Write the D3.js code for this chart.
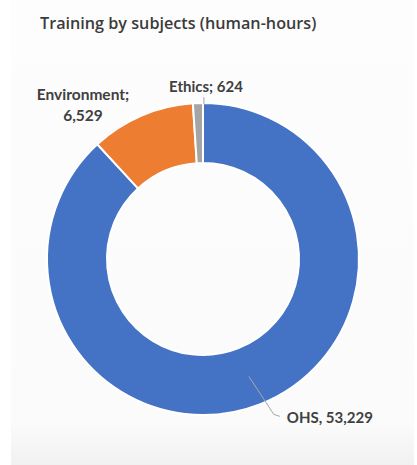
<!DOCTYPE html>
<html>
<head>
<meta charset="utf-8">
<script src="https://cdn.jsdelivr.net/npm/d3@7"></script>
<style>
  html, body { margin: 0; padding: 0; background: #ffffff; }
  svg { display: block; }
</style>
</head>
<body>
<script>
// Training hours by subject
const categories = ["OHS", "Environment", "Ethics"];
const hours = [53229, 6529, 624];
const separators = [", ", ";", "; "];
const colors = ["#4472C4", "#ED7D31", "#A5A5A5"];
const title = "Training by subjects (human-hours)";

const W = 417, H = 465;
const cx = 203, cy = 259, rOuter = 156, rInner = 96;

const svg = d3.select("body").append("svg")
  .attr("width", W).attr("height", H);

// panel background with soft shading at the bottom
const defs = svg.append("defs");
const grad = defs.append("linearGradient").attr("id", "panelShade")
  .attr("x1", 0).attr("y1", 0).attr("x2", 0).attr("y2", 1);
grad.append("stop").attr("offset", "0%").attr("stop-color", "#fdfdfd");
grad.append("stop").attr("offset", "91%").attr("stop-color", "#fbfbfb");
grad.append("stop").attr("offset", "100%").attr("stop-color", "#f1f1f1");
svg.append("rect").attr("x", 11).attr("y", 0).attr("width", 403).attr("height", H)
  .attr("fill", "url(#panelShade)");

svg.append("text")
  .attr("x", 40).attr("y", 29)
  .attr("font-family", "'Open Sans', sans-serif")
  .attr("font-weight", 600)
  .attr("font-size", 16.2)
  .attr("fill", "#3b3b3b")
  .text(title);

const data = categories.map((c, i) => ({ name: c, value: hours[i], sep: separators[i], color: colors[i] }));

const pie = d3.pie().sort(null).value(d => d.value).startAngle(0).endAngle(2 * Math.PI);
const arcs = pie(data);
const arc = d3.arc().innerRadius(rInner).outerRadius(rOuter);

const g = svg.append("g").attr("transform", `translate(${cx},${cy})`);

g.selectAll("path.slice").data(arcs).join("path")
  .attr("class", "slice")
  .attr("d", arc)
  .attr("fill", d => d.data.color)
  .attr("stroke", "#ffffff")
  .attr("stroke-width", 2);

const fmt = d3.format(",");

// leader lines: start on the slice, bend towards the label
function pointAt(angle, r) {
  return [Math.sin(angle) * r, -Math.cos(angle) * r];
}
const ohs = arcs[0];
const ohsMid = (ohs.startAngle + ohs.endAngle) / 2;
const p0 = pointAt(ohsMid, (rInner + rOuter) / 2);
g.append("polyline")
  .attr("points", [p0, [p0[0] + 25, p0[1] + 38], [p0[0] + 31, p0[1] + 40]].map(p => p.join(",")).join(" "))
  .attr("fill", "none").attr("stroke", "#a6a6a6").attr("stroke-width", 1);

const eth = arcs[2];
const ethMid = (eth.startAngle + eth.endAngle) / 2;
const e0 = pointAt(ethMid, rOuter);
g.append("line")
  .attr("x1", e0[0] + 6).attr("y1", e0[1] - 6)
  .attr("x2", e0[0] + 6).attr("y2", e0[1] + 1)
  .attr("stroke", "#a6a6a6").attr("stroke-width", 1);

const labelFont = "Lato, 'Open Sans', sans-serif";
function label(x, y, lines, anchor, size) {
  const t = svg.append("text")
    .attr("x", x).attr("y", y)
    .attr("text-anchor", anchor)
    .attr("font-family", labelFont)
    .attr("font-weight", 700)
    .attr("font-size", size)
    .attr("fill", "#404040");
  lines.forEach((s, i) => {
    t.append("tspan").attr("x", x).attr("dy", i === 0 ? 0 : 21).text(s);
  });
}

// OHS label after the leader line
label(cx + p0[0] + 38, cy + p0[1] + 47, [data[0].name + data[0].sep + fmt(data[0].value)], "start", 15);
// Environment label, wrapped over two lines
label(83, 100, [data[1].name + data[1].sep, fmt(data[1].value)], "middle", 15.5);
// Ethics label
label(206, 92, [data[2].name + data[2].sep + fmt(data[2].value)], "middle", 15);
</script>
</body>
</html>
